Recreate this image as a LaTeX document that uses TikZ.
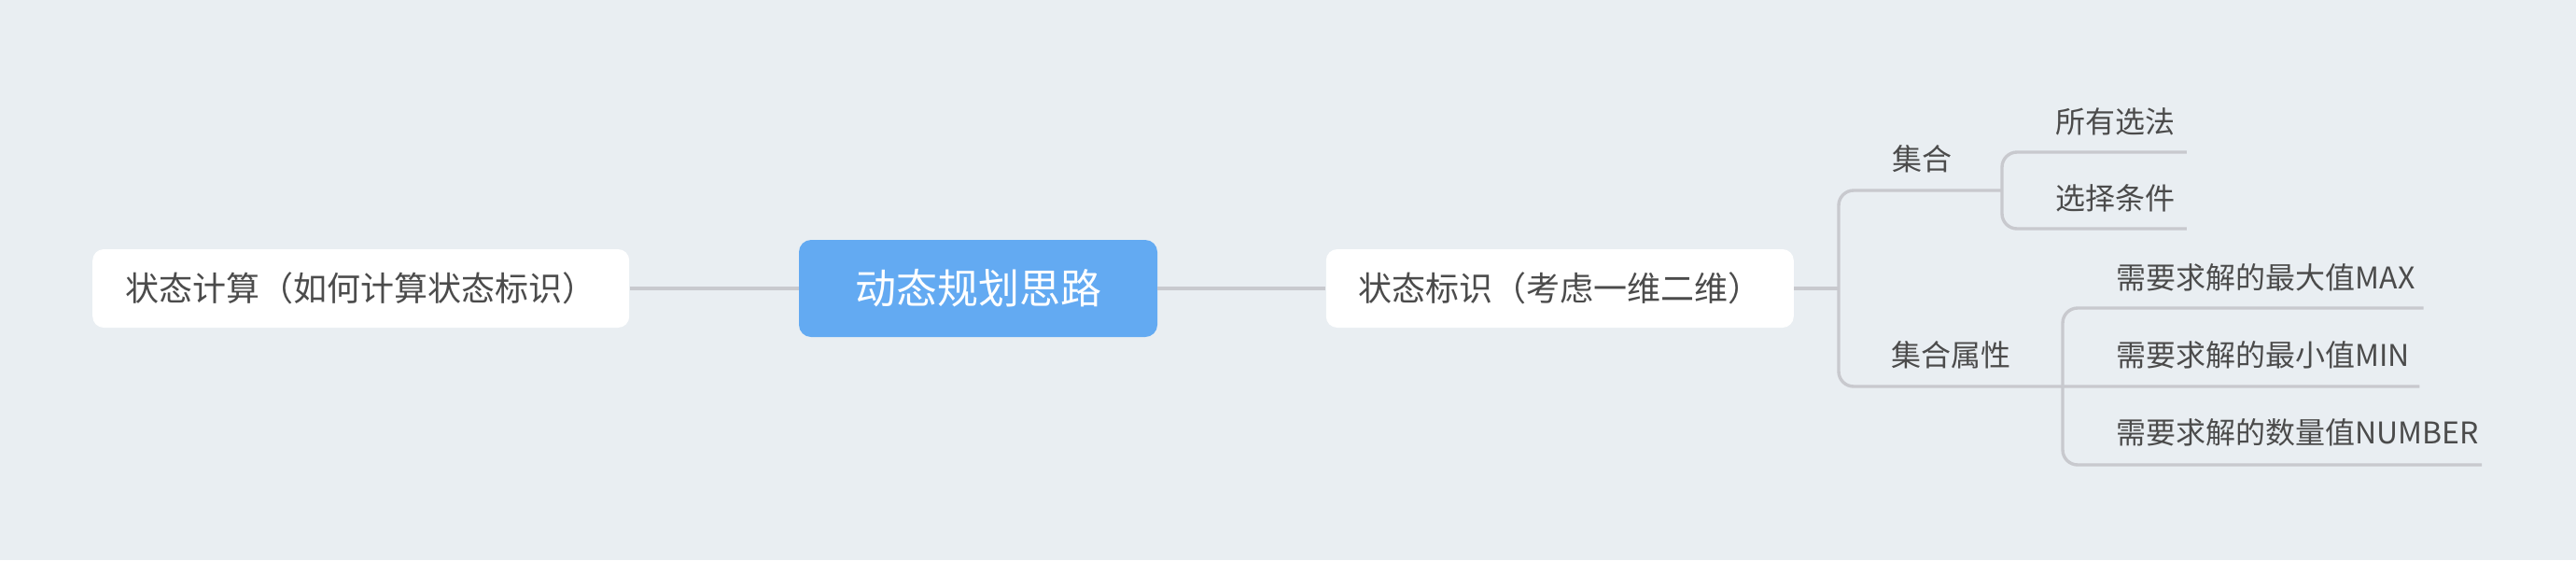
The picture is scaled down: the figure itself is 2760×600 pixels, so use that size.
\documentclass[tikz,border=0pt]{standalone}
\usepackage{fontspec}
\newfontfamily\cjk{Noto Sans CJK SC}
\usetikzlibrary{calc, positioning}
\definecolor{bgcol}{HTML}{E9EEF2}
\definecolor{rootcol}{HTML}{63AAF2}
\definecolor{linecol}{HTML}{C8C9CE}
\definecolor{txtcol}{HTML}{4B4B4B}
\begin{document}
\begin{tikzpicture}[x=0.5pt, y=-0.5pt,
    rootbox/.style={rectangle, rounded corners=6.5pt, fill=rootcol, text=white, inner sep=0pt,
        minimum width=192pt, minimum height=52pt, font=\cjk\fontsize{22pt}{22pt}\selectfont},
    topicbox/.style={rectangle, rounded corners=6pt, fill=white, text=txtcol, inner sep=0pt,
        minimum height=42pt, font=\cjk\fontsize{18pt}{18pt}\selectfont},
    leaftext/.style={anchor=west, inner sep=0pt, text=txtcol, font=\cjk\fontsize{16pt}{16pt}\selectfont},
    link/.style={draw=linecol, line width=2pt},
    branch/.style={draw=linecol, line width=1.7pt, rounded corners=8pt}]
                \useasboundingbox (0,0) rectangle (2760,600);
                \fill[bgcol] (0,0) rectangle (2760,600);

                \node[rootbox] (root) at (1048,309) {动态规划思路};
                \node[topicbox, minimum width=287.5pt, left=90.5pt of root] (calc) {状态计算（如何计算状态标识）};
                \node[topicbox, minimum width=250.5pt, right=90pt of root] (ident) {状态标识（考虑一维二维）};

                \node[leaftext] (jihe) at (2027,170) {集合};
                \node[leaftext] (suoyou) at (2202,130) {所有选法};
                \node[leaftext] (tiaojian) at (2202,212) {选择条件};
                \node[leaftext] (shuxing) at (2026,380) {集合属性};
                \node[leaftext] (zuida) at (2267,297) {需要求解的最大值MAX};
                \node[leaftext] (zuixiao) at (2267,380) {需要求解的最小值MIN};
                \node[leaftext] (shuliang) at (2267,463) {需要求解的数量值NUMBER};

                \coordinate (fork) at (1970,309);
                \coordinate (jiheFork) at (2145,204);
                \coordinate (shuxingFork) at (2210,414);
                \coordinate (suoyouEnd) at ($(suoyou.east)+(12,33)$);
                \coordinate (tiaojianEnd) at ($(tiaojian.east)+(12,33)$);
                \coordinate (zuidaEnd) at ($(zuida.east)+(9,33)$);
                \coordinate (zuixiaoEnd) at ($(zuixiao.east)+(10,34)$);
                \coordinate (shuliangEnd) at ($(shuliang.east)+(3,35)$);

                \draw[link] (calc) -- (root);
                \draw[link] (root) -- (ident);
                \draw[link] (ident) -- (fork);
                \draw[branch] (jiheFork) -| (fork) |- (zuixiaoEnd);
                \draw[branch] (suoyouEnd) -| (jiheFork) |- (tiaojianEnd);
                \draw[branch] (zuidaEnd) -| (shuxingFork) |- (shuliangEnd);
            \end{tikzpicture}
\end{document}
